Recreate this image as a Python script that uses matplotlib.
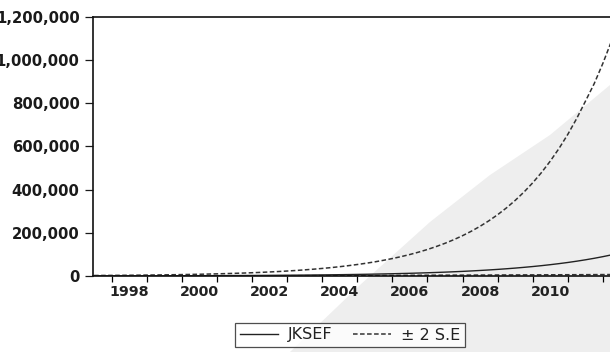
import matplotlib
matplotlib.use("Agg")
import matplotlib.pyplot as plt
from matplotlib.patches import Polygon
from matplotlib.ticker import FuncFormatter

# Quarterly forecast periods (fractional years), 1997.50 ... 2012.25
period = [1997.5 + 0.25 * i for i in range(60)]

# Point forecast of JKSE
jksef = [500, 547, 598, 654, 715, 782, 855, 935, 1020, 1120,
         1220, 1340, 1460, 1600, 1750, 1910, 2090, 2290, 2500, 2740,
         2990, 3270, 3580, 3910, 4280, 4680, 5120, 5600, 6120, 6690,
         7320, 8000, 8750, 9570, 10500, 11500, 12500, 13700, 15000, 16400,
         17900, 19600, 21400, 23400, 25600, 28000, 30600, 33500, 36600,
         40100, 43800, 47900, 52400, 57300, 62600, 68500, 74900, 81900,
         89600, 98000]

# +2 standard error band
upper = [2300, 2550, 2830, 3150, 3500, 3880, 4310, 4790, 5310, 5900,
         6550, 7270, 8070, 8960, 9950, 11100, 12300, 13600, 15100, 16800,
         18700, 20700, 23000, 25500, 28400, 31500, 35000, 38800, 43100,
         47900, 53200, 59000, 65500, 72800, 80800, 89700, 99600, 110600,
         122800, 136400, 151400, 168100, 186700, 207300, 230200, 255600,
         283800, 315200, 350000, 388600, 431500, 479100, 532000, 590700,
         655900, 728300, 808700, 890000, 985000, 1090000]

# -2 standard error band
lower = [200, 220, 250, 270, 300, 320, 350, 380, 400, 450,
         500, 550, 600, 650, 700, 750, 800, 870, 950, 1020,
         1100, 1200, 1300, 1400, 1500, 1600, 1700, 1850, 2000, 2150,
         2300, 2450, 2600, 2750, 2900, 3050, 3200, 3350, 3500, 3650,
         3800, 3950, 4100, 4250, 4400, 4550, 4700, 4850, 5000, 5150,
         5300, 5450, 5600, 5750, 5900, 6050, 6200, 6400, 6600, 6800]

year_ticks = list(range(1998, 2013))
year_labels = ["1998", "2000", "2002", "2004", "2006", "2008", "2010"]
y_ticks = [0, 200000, 400000, 600000, 800000, 1000000, 1200000]

W, H = 610, 352
fig = plt.figure(figsize=(W / 100, H / 100), dpi=100)
fig.patch.set_facecolor("white")

# faint grey background wash in the lower right
wash = [(290, 352), (360, 285), (430, 222), (490, 175), (550, 135),
        (610, 85), (610, 352)]
fig.patches.append(Polygon([(x / W, 1 - y / H) for x, y in wash],
                           closed=True, transform=fig.transFigure,
                           facecolor="#eeeeee", edgecolor="none",
                           zorder=-10))

left, right = 92.7, 620.5
bottom, top = 276.0, 16.7
ax = fig.add_axes([left / W, 1 - bottom / H, (right - left) / W,
                   (bottom - top) / H])
ax.set_facecolor("none")
ax.set_zorder(1)

ax.plot(period, jksef, color="#222222", lw=1.0, label="JKSEF")
ax.plot(period, upper, color="#333333", lw=1.1, ls=(0, (3, 1.6)),
        label="\u00b1 2 S.E")
ax.plot(period, lower, color="#333333", lw=1.1, ls=(0, (3, 1.6)))

ax.set_xlim(1997.46, 2012.5)
ax.set_ylim(0, 1200000)

ax.set_yticks(y_ticks)
ax.yaxis.set_major_formatter(FuncFormatter(lambda v, p: f"{v:,.0f}"))
ax.tick_params(axis="y", direction="out", length=5.8, width=0.9, pad=3.6,
               labelsize=10.7, colors="#1a1a1a")
for t in ax.get_yticklabels():
    t.set_fontweight("bold")

ax.set_xticks(year_ticks)
ax.set_xticklabels([])
ax.set_xticks([int(s) + 0.5 for s in year_labels], minor=True)
ax.set_xticklabels(year_labels, minor=True)
ax.tick_params(axis="x", which="major", direction="out", length=4.3,
               width=0.9)
ax.tick_params(axis="x", which="minor", length=0, pad=6.5,
               labelsize=10.3, labelcolor="#222222")
for t in ax.get_xticklabels(minor=True):
    t.set_fontweight("bold")

for side in ("left", "top", "bottom", "right"):
    ax.spines[side].set_linewidth(1.2)
    ax.spines[side].set_color("#111111")

leg = fig.legend(loc="center", bbox_to_anchor=(350 / W, 1 - 335 / H),
                 ncol=2, frameon=True, fancybox=False, handlelength=2.4,
                 columnspacing=1.3, handletextpad=0.6, borderpad=0.3,
                 borderaxespad=0,
                 prop={"family": "DejaVu Sans", "size": 11.5})
leg.get_frame().set_edgecolor("#222222")
leg.get_frame().set_linewidth(0.9)
for t in leg.get_texts():
    t.set_color("#222222")

fig.savefig("out.png", dpi=100)
